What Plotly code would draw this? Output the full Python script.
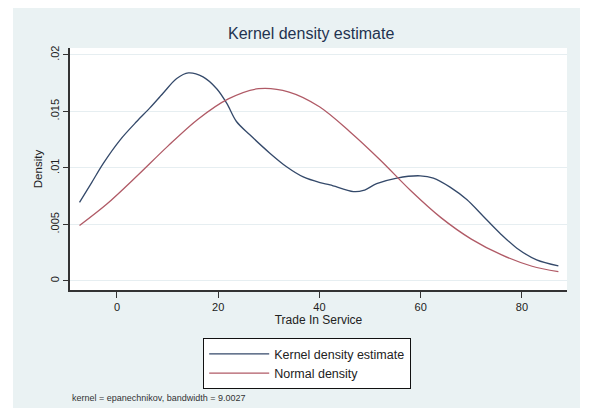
import plotly.graph_objects as go

# ---- data ----
kernel_x = [-7.4, -5.0, -2.7, 0.6, 3.9, 6.5, 9.1, 11.8, 14.1, 17.0, 19.7, 21.7, 23.6, 26.3,
            30.2, 33.5, 36.8, 40.1, 42.1, 46.7, 48.7, 51.3, 55.3, 59.9, 62.5, 65.8,
            69.1, 72.4, 75.7, 79.0, 82.9, 87.2]
kernel_y = [0.00695, 0.0087, 0.0104, 0.01246, 0.0141, 0.0153, 0.0166, 0.0179, 0.0184, 0.01805,
            0.0170, 0.0157, 0.0141, 0.0129, 0.0113, 0.0101, 0.0092, 0.0087, 0.0085, 0.0079,
            0.0080, 0.0086, 0.0091, 0.0093, 0.0091, 0.0083, 0.0072, 0.0057, 0.0042, 0.0029,
            0.00186, 0.00133]

normal_x = [-7.4, -2.0, 4.0, 10.0, 16.0, 22.0, 28.0, 34.0, 40.0, 46.0, 52.0, 58.0, 64.0,
            70.0, 76.0, 82.0, 87.2]
normal_y = [0.0049, 0.0068, 0.0093, 0.0119, 0.0143, 0.0161, 0.0170, 0.0167, 0.0154, 0.0132,
            0.0107, 0.0080, 0.0056, 0.0037, 0.0023, 0.0013, 0.00082]

x_ticks = [0, 20, 40, 60, 80]
x_tick_labels = ["0", "20", "40", "60", "80"]
y_ticks = [0, 0.005, 0.01, 0.015, 0.02]
y_tick_labels = ["0", ".005", ".01", ".015", ".02"]

title_text = "Kernel density estimate"
x_title = "Trade In Service"
y_title = "Density"
series_names = ["Kernel density estimate", "Normal density"]
note_text = "kernel = epanechnikov, bandwidth = 9.0027"

FONT = "Liberation Sans, Arial, sans-serif"
BG = "#eaf2f3"
AXIS = "#333333"

fig = go.Figure()
fig.add_trace(go.Scatter(x=kernel_x, y=kernel_y, mode="lines", name=series_names[0],
                         line=dict(color="#34496a", width=1.3, shape="spline", smoothing=0.9)))
fig.add_trace(go.Scatter(x=normal_x, y=normal_y, mode="lines", name=series_names[1],
                         line=dict(color="#b05a66", width=1.3, shape="spline", smoothing=0.9)))

# the page body adds an 8px offset; geometry below is given in screenshot pixels
OFF = 8
W, H = 589 - OFF, 417 - OFF
PL, PR, PT, PB = 70, 567, 48, 290          # plot area in screenshot pixels
L, R, T, B = PL - OFF, W - (PR - OFF), PT - OFF, H - (PB - OFF)
pw, ph = W - L - R, H - T - B

def px(xs):
    return (xs - PL) / pw

def py(ys):
    return (PB - ys) / ph

fig.update_layout(
    width=W, height=H,
    margin=dict(l=L, r=R, t=T, b=B),
    paper_bgcolor="white",
    plot_bgcolor="white",
    font=dict(family=FONT, color="#222222"),
    showlegend=True,
    legend=dict(
        x=px(203), y=py(338), xanchor="left", yanchor="top",
        bgcolor="white", bordercolor="#111111", borderwidth=1.2,
        font=dict(size=12.5, family=FONT, color="#222222"),
        tracegroupgap=0, itemwidth=60,
    ),
    shapes=[
        dict(type="rect", xref="paper", yref="paper", x0=px(13), x1=px(580), y0=py(408), y1=py(8),
             fillcolor=BG, line=dict(width=0), layer="below"),
        dict(type="rect", xref="paper", yref="paper", x0=0, x1=1, y0=0, y1=1,
             fillcolor="white", line=dict(width=0), layer="below"),
    ],
    annotations=[
        dict(text=title_text, xref="paper", yref="paper", x=px(311), y=py(33),
             xanchor="center", yanchor="middle", showarrow=False,
             font=dict(size=16, family=FONT, color="#1f3350")),
        dict(text=note_text, xref="paper", yref="paper", x=px(70), y=py(398),
             xanchor="left", yanchor="middle", showarrow=False,
             font=dict(size=9, family=FONT, color="#333333")),
    ],
)

fig.update_xaxes(
    range=[-9.28, 88.9], tickvals=x_ticks, ticktext=x_tick_labels,
    showline=True, linecolor=AXIS, linewidth=1.5, mirror=False,
    ticks="outside", ticklen=6, tickcolor=AXIS, tickwidth=1.2,
    showgrid=False, zeroline=False,
    tickfont=dict(size=11, family=FONT, color="#222222"),
    title=dict(text=x_title, font=dict(size=12, family=FONT, color="#222222"), standoff=2),
)
fig.update_yaxes(
    range=[-0.0008, 0.0206], tickvals=y_ticks, ticktext=y_tick_labels, tickangle=-90,
    showline=True, linecolor=AXIS, linewidth=1.5,
    ticks="outside", ticklen=5, tickcolor=AXIS, tickwidth=1.2,
    showgrid=True, gridcolor="#e6eef1", gridwidth=1, zeroline=False,
    tickfont=dict(size=11, family=FONT, color="#222222"),
    title=dict(text=y_title, font=dict(size=11.5, family=FONT, color="#222222"), standoff=4),
)

fig.write_html("out.html")
